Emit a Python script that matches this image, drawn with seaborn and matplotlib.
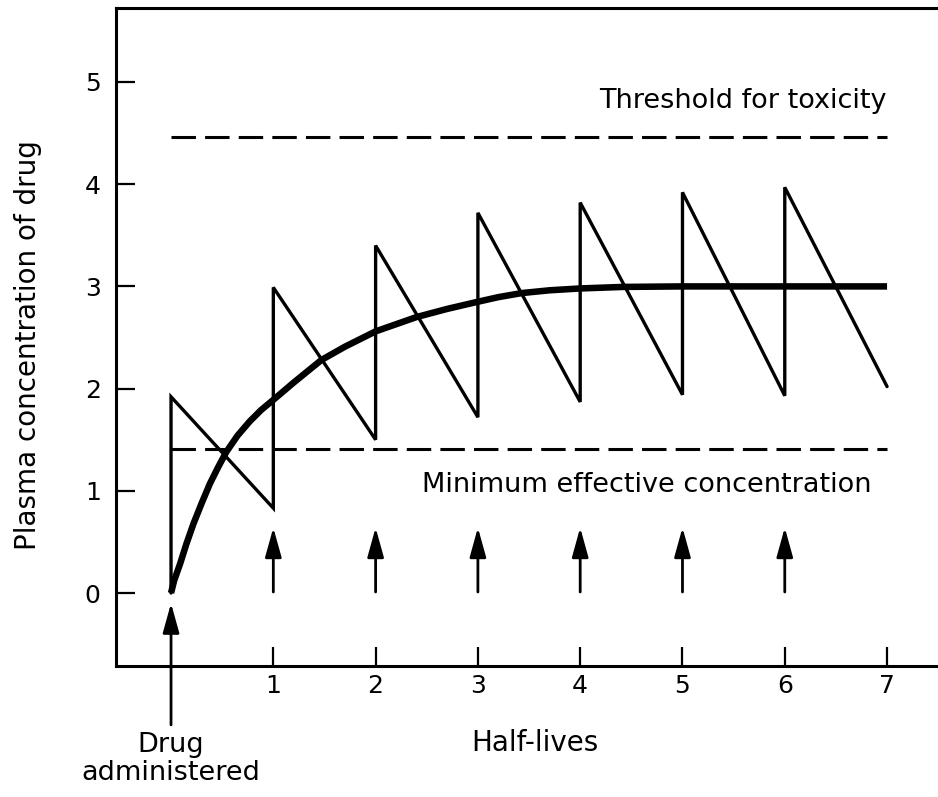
import matplotlib
matplotlib.use("Agg")
import pandas as pd
import matplotlib.pyplot as plt
import seaborn as sns

# average plasma level (thick smooth curve)
avg_x = [0, 0.03, 0.09, 0.15, 0.22, 0.30, 0.38, 0.46, 0.54, 0.65, 0.77, 0.88, 1.0,
         1.2, 1.47, 1.7, 2.0, 2.4, 2.7, 3.0, 3.2, 3.43, 3.7, 4.0, 4.42, 5.0, 6.0, 7.0]
avg_y = [0, 0.12, 0.29, 0.48, 0.68, 0.88, 1.07, 1.23, 1.38, 1.54, 1.68, 1.79, 1.89,
         2.06, 2.28, 2.41, 2.56, 2.70, 2.78, 2.85, 2.895, 2.935, 2.962, 2.98, 2.995,
         3.0, 3.0, 3.0]

# repeated doses: peak right after each dose, trough just before the next one
dose_times = [0, 1, 2, 3, 4, 5, 6]
peaks = [1.92, 2.99, 3.40, 3.72, 3.82, 3.92, 3.97]
troughs = [0.83, 1.50, 1.72, 1.87, 1.94, 1.93, 2.02]

toxic_level = 4.46
mec_level = 1.41
x_ticks = [1, 2, 3, 4, 5, 6, 7]
y_ticks = [0, 1, 2, 3, 4, 5]

sns.set_style("ticks")
plt.rcParams["font.family"] = ["DejaVu Sans"]
plt.rcParams["text.color"] = "black"
plt.rcParams["axes.labelcolor"] = "black"
plt.rcParams["xtick.color"] = "black"
plt.rcParams["ytick.color"] = "black"
FS = 19.5

# build the sawtooth path from the dose data
saw_x, saw_y = [0], [0]
for t, p, tr in zip(dose_times, peaks, troughs):
    saw_x += [t, t + 1]
    saw_y += [p, tr]
saw = pd.DataFrame({"t": saw_x, "c": saw_y})
avg = pd.DataFrame({"t": avg_x, "c": avg_y})

fig = plt.figure(figsize=(9.38, 7.97), dpi=100)
ax = fig.add_axes([116 / 938, 1 - 666 / 797, 1 - 116 / 938, (666 - 8) / 797])

sns.lineplot(data=saw, x="t", y="c", sort=False, estimator=None, color="black",
             lw=2.4, ax=ax, solid_joinstyle="miter")
sns.lineplot(data=avg, x="t", y="c", sort=False, estimator=None, color="black",
             lw=4.7, ax=ax, solid_capstyle="butt", solid_joinstyle="round")

for lvl in (toxic_level, mec_level):
    ax.hlines(lvl, dose_times[0], x_ticks[-1], colors="black", lw=2.2,
              linestyles=(0, (8, 3)))

arrow = dict(arrowstyle="-|>,head_length=1.8,head_width=0.5", color="black",
             lw=2, mutation_scale=10, shrinkA=0, shrinkB=0)
for t in dose_times[1:]:
    ax.annotate("", xy=(t, 0.64), xytext=(t, 0.01), arrowprops=arrow)
ax.annotate("", xy=(0, -0.10), xytext=(0, -1.29), arrowprops=arrow,
            annotation_clip=False)

ax.text(7.0, 4.75, "Threshold for toxicity", ha="right", va="baseline", fontsize=FS)
ax.text(6.85, 0.99, "Minimum effective concentration", ha="right", va="baseline",
        fontsize=FS)
ax.text(0, -1.36, "Drug\nadministered", ha="center", va="top", fontsize=FS,
        linespacing=1.1, clip_on=False)

ax.set_xlim(-0.538, 7.498)
ax.set_ylim(-0.714, 5.724)
ax.set_xticks(x_ticks)
ax.set_yticks(y_ticks)
ax.tick_params(direction="in", length=14, width=1.6, labelsize=18, color="black")
ax.tick_params(axis="x", pad=6)
ax.tick_params(axis="y", pad=11)

ax.set_xlabel("Half-lives", fontsize=20)
ax.xaxis.set_label_coords(0.51, -0.095)
ax.set_ylabel("Plasma concentration of drug", fontsize=20)
ax.yaxis.label.set_va("center")
ax.yaxis.set_label_coords(-0.107, 0.488)

ax.spines["right"].set_visible(False)
for s in ("left", "top", "bottom"):
    ax.spines[s].set_linewidth(2.2)
    ax.spines[s].set_color("black")

fig.savefig("out.png", dpi=100)
